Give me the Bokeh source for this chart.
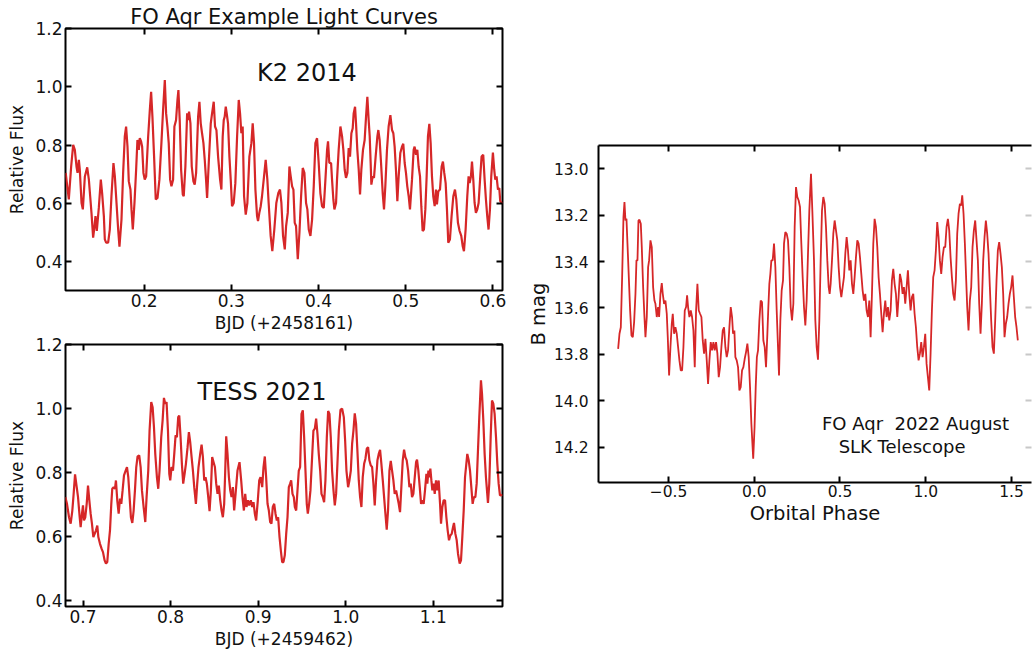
from bokeh.plotting import figure
from bokeh.models import Range1d, LinearAxis, FixedTicker, PrintfTickFormatter, CustomJSTickFormatter, Label
from bokeh.layouts import row, column
from bokeh.embed import file_html
from bokeh.resources import INLINE

FONT = "DejaVu Sans"
RED = "#d62728"

# ---------------- data ----------------
k2_time = [0.110, 0.1136, 0.1163, 0.1186, 0.1205, 0.1224, 0.1236, 0.1251, 0.1262, 0.1282, 0.1297, 0.1320, 0.1347,
           0.1366, 0.1381, 0.1396, 0.1415, 0.1431, 0.1442, 0.1457, 0.1480, 0.1503, 0.1518, 0.1538, 0.1549, 0.1564,
           0.1587, 0.1606, 0.1625, 0.1648, 0.1664, 0.1683, 0.1702, 0.1717, 0.1740, 0.1759, 0.1778, 0.1793, 0.1809,
           0.1824, 0.1843, 0.1855, 0.1870, 0.1889, 0.1908, 0.1923, 0.1939, 0.1950, 0.1965, 0.1977, 0.1992, 0.2007,
           0.2023, 0.2046, 0.2065, 0.2080, 0.2095, 0.2114, 0.2133, 0.2153, 0.2175, 0.2198, 0.2217, 0.2237, 0.2252,
           0.2267, 0.2282, 0.2298, 0.2313, 0.2332, 0.2347, 0.2366, 0.2382, 0.2393, 0.2408, 0.2424, 0.2443, 0.2454,
           0.2473, 0.2493, 0.2504, 0.2515, 0.2531, 0.2546, 0.2565, 0.2580, 0.2596, 0.2619, 0.2634, 0.2649, 0.2664,
           0.2680, 0.2695, 0.2710, 0.2722, 0.2741, 0.2764, 0.2779, 0.2798, 0.2813, 0.2829, 0.2848, 0.2871, 0.2886,
           0.2901, 0.2913, 0.2924, 0.2936, 0.2947, 0.2962, 0.2978, 0.2993, 0.3008, 0.3027, 0.3046, 0.3066, 0.3085,
           0.3100, 0.3115, 0.3130, 0.3146, 0.3165, 0.3184, 0.3207, 0.3230, 0.3245, 0.3260, 0.3276, 0.3295, 0.3306,
           0.3321, 0.3337, 0.3352, 0.3375, 0.3394, 0.3413, 0.3428, 0.3451, 0.3470, 0.3493, 0.3516, 0.3539, 0.3558,
           0.3574, 0.3593,
           0.3613, 0.3628, 0.3647, 0.3666, 0.3681, 0.3697, 0.3712, 0.3727, 0.3742, 0.3762, 0.3781, 0.3800, 0.3819,
           0.3838, 0.3857, 0.3872, 0.3888, 0.3907, 0.3926, 0.3945, 0.3964, 0.3983, 0.4002, 0.4021, 0.4040, 0.4060,
           0.4079, 0.4098, 0.4109, 0.4124, 0.4144, 0.4155, 0.4170, 0.4182, 0.4201, 0.4212, 0.4231, 0.4251, 0.4270,
           0.4285, 0.4300, 0.4315, 0.4331, 0.4346, 0.4361, 0.4377, 0.4392, 0.4403, 0.4419, 0.4430, 0.4445, 0.4461,
           0.4476, 0.4491, 0.4510, 0.4529, 0.4545, 0.4560, 0.4575, 0.4587, 0.4598, 0.4606, 0.4621, 0.4636, 0.4655,
           0.4675, 0.4686, 0.4701, 0.4717, 0.4736, 0.4751, 0.4766, 0.4785, 0.4804, 0.4824, 0.4843, 0.4858, 0.4873,
           0.4888, 0.4904, 0.4919, 0.4938, 0.4957, 0.4972, 0.4988, 0.5003, 0.5018, 0.5034, 0.5049, 0.5072, 0.5091,
           0.5102, 0.5118, 0.5133, 0.5148, 0.5164, 0.5179, 0.5194, 0.5209, 0.5225, 0.5240, 0.5255, 0.5271, 0.5286,
           0.5301, 0.5316, 0.5332, 0.5347, 0.5358, 0.5374, 0.5393, 0.5412, 0.5427, 0.5442, 0.5458, 0.5473, 0.5488,
           0.5507, 0.5526, 0.5546, 0.5565, 0.5580, 0.5599, 0.5618, 0.5637, 0.5653, 0.5668, 0.5687, 0.5706, 0.5721,
           0.5733, 0.5748, 0.5760, 0.5775, 0.5790, 0.5805, 0.5821, 0.5836, 0.5855, 0.5870, 0.5889, 0.5905, 0.5920,
           0.5935, 0.5950, 0.5966, 0.5981, 0.6000, 0.6015, 0.6027, 0.6042, 0.6058, 0.6073, 0.6084, 0.6110]
k2_flux = [0.705, 0.614, 0.727, 0.801, 0.784, 0.727, 0.705, 0.750, 0.716, 0.602, 0.580, 0.693, 0.724,
           0.682, 0.625, 0.568, 0.483, 0.523, 0.557, 0.506, 0.585, 0.682, 0.636, 0.557, 0.477, 0.466,
           0.466, 0.511, 0.625, 0.739, 0.693, 0.602, 0.511, 0.452, 0.545, 0.705, 0.830, 0.864, 0.795,
           0.676, 0.648, 0.580, 0.511, 0.602, 0.716, 0.818, 0.784, 0.824, 0.813, 0.795, 0.705, 0.682,
           0.693, 0.830, 0.920, 0.983, 0.898, 0.761, 0.614, 0.619, 0.682, 0.807, 0.920, 1.023, 0.909,
           0.864, 0.807, 0.682, 0.659, 0.682, 0.864, 0.886, 0.955, 0.989, 0.886, 0.716, 0.631, 0.625,
           0.727, 0.909, 0.886, 0.915, 0.875, 0.727, 0.676, 0.665, 0.705, 0.898, 0.949, 0.875, 0.841,
           0.807, 0.750, 0.682, 0.619, 0.739, 0.875, 0.909, 0.949, 0.864, 0.852, 0.761, 0.682, 0.648,
           0.830, 0.886, 0.898, 0.932, 0.909, 0.875, 0.761, 0.682, 0.591, 0.602, 0.670, 0.830, 0.955,
           0.909, 0.841, 0.864, 0.625, 0.562, 0.602, 0.761, 0.807, 0.875, 0.807, 0.648, 0.557, 0.540,
           0.568, 0.591, 0.625, 0.693, 0.750, 0.682, 0.602, 0.489, 0.437, 0.511, 0.602, 0.636, 0.648,
           0.602, 0.489,
           0.443, 0.523, 0.568, 0.727, 0.693, 0.659, 0.648, 0.534, 0.523, 0.409, 0.500, 0.625, 0.722,
           0.705, 0.602, 0.580, 0.511, 0.489, 0.545, 0.659, 0.807, 0.824, 0.739, 0.636, 0.591, 0.585,
           0.682, 0.784, 0.813, 0.739, 0.739, 0.682, 0.614, 0.580, 0.602, 0.682, 0.784, 0.864, 0.830,
           0.784, 0.716, 0.688, 0.705, 0.790, 0.761, 0.841, 0.858, 0.909, 0.932, 0.875, 0.784, 0.716,
           0.631, 0.716, 0.784, 0.818, 0.898, 0.966, 0.886, 0.830, 0.739, 0.665, 0.693, 0.688, 0.761,
           0.830, 0.852, 0.818, 0.739, 0.636, 0.580, 0.659, 0.784, 0.864, 0.903, 0.852, 0.841, 0.795,
           0.716, 0.608, 0.693, 0.773, 0.795, 0.805, 0.739, 0.705, 0.659, 0.625, 0.580, 0.682, 0.784,
           0.795, 0.767, 0.784, 0.727, 0.693, 0.591, 0.506, 0.511, 0.580, 0.693, 0.830, 0.873, 0.807,
           0.693, 0.625, 0.591, 0.648, 0.597, 0.642, 0.648, 0.727, 0.744, 0.705, 0.670, 0.580, 0.466,
           0.477, 0.557, 0.625, 0.648, 0.614, 0.534, 0.506, 0.489, 0.455, 0.437, 0.511, 0.625, 0.693,
           0.670, 0.693, 0.744, 0.682, 0.602, 0.568, 0.580, 0.602, 0.693, 0.761, 0.767, 0.682, 0.614,
           0.557, 0.511, 0.580, 0.693, 0.775, 0.716, 0.682, 0.693, 0.648, 0.653, 0.608, 0.600]

tess_time = [0.6798, 0.6817, 0.6840, 0.6859, 0.6878, 0.6893, 0.6909, 0.6928, 0.6943, 0.6962, 0.6973, 0.6988,
             0.7000, 0.7011, 0.7026, 0.7042, 0.7057, 0.7072, 0.7087, 0.7102, 0.7118, 0.7133, 0.7148, 0.7163,
             0.7175, 0.7194, 0.7213, 0.7228, 0.7247, 0.7262, 0.7277, 0.7293, 0.7308, 0.7323, 0.7334, 0.7350,
             0.7365, 0.7376, 0.7391, 0.7407, 0.7422, 0.7437, 0.7452, 0.7468, 0.7487, 0.7502, 0.7517, 0.7532,
             0.7547, 0.7563, 0.7578, 0.7593, 0.7608, 0.7623, 0.7642, 0.7658, 0.7673, 0.7692, 0.7711, 0.7726,
             0.7745, 0.7760, 0.7779, 0.7795, 0.7810, 0.7825, 0.7844, 0.7859, 0.7874, 0.7893, 0.7909, 0.7924,
             0.7939, 0.7954, 0.7970, 0.7985, 0.7996, 0.8011, 0.8027, 0.8042, 0.8057, 0.8072, 0.8087, 0.8099,
             0.8114, 0.8129, 0.8144, 0.8160, 0.8175, 0.8194, 0.8209, 0.8224, 0.8240, 0.8255, 0.8270, 0.8289,
             0.8304, 0.8319, 0.8338, 0.8354, 0.8369, 0.8384, 0.8399, 0.8414, 0.8430, 0.8445, 0.8460, 0.8475,
             0.8491, 0.8506, 0.8521, 0.8536, 0.8551, 0.8567, 0.8582, 0.8597, 0.8612, 0.8624, 0.8635, 0.8650,
             0.8666, 0.8681, 0.8696, 0.8711, 0.8726, 0.8742, 0.8764, 0.8787, 0.8806, 0.8821, 0.8837, 0.8852,
             0.8867, 0.8882, 0.8897, 0.8916, 0.8932, 0.8947, 0.8962, 0.8977, 0.8996, 0.9012, 0.9027, 0.9046,
             0.9061, 0.9076, 0.9091, 0.9107, 0.9122, 0.9137, 0.9152, 0.9167, 0.9183, 0.9198, 0.9213, 0.9228,
             0.9244, 0.9259, 0.9274,
             0.9289, 0.9304, 0.9320, 0.9335, 0.9350, 0.9365, 0.9377, 0.9392, 0.9407, 0.9419, 0.9434, 0.9449,
             0.9464, 0.9479, 0.9495, 0.9510, 0.9525, 0.9540, 0.9555, 0.9567, 0.9582, 0.9597, 0.9616, 0.9631,
             0.9647, 0.9662, 0.9677, 0.9692, 0.9708, 0.9723, 0.9738, 0.9753, 0.9768, 0.9784, 0.9799, 0.9814,
             0.9829, 0.9844, 0.9860, 0.9875, 0.9890, 0.9905, 0.9921, 0.9940, 0.9959, 0.9978, 0.9993, 1.0008,
             1.0027, 1.0042, 1.0058, 1.0073, 1.0088, 1.0103, 1.0118, 1.0133, 1.0149, 1.0164, 1.0179, 1.0194,
             1.0210, 1.0225, 1.0240, 1.0255, 1.0270, 1.0286, 1.0301, 1.0316, 1.0331, 1.0346, 1.0362, 1.0377,
             1.0392, 1.0407, 1.0423, 1.0438, 1.0453, 1.0468, 1.0483, 1.0499, 1.0514, 1.0529, 1.0544, 1.0559,
             1.0575, 1.0590, 1.0605, 1.0620, 1.0635, 1.0651, 1.0666, 1.0681, 1.0696, 1.0712, 1.0727, 1.0742,
             1.0757, 1.0772, 1.0788, 1.0803, 1.0814, 1.0829, 1.0845, 1.0860, 1.0875, 1.0890, 1.0905, 1.0921,
             1.0932, 1.0944, 1.0955, 1.0966, 1.0978, 1.0989, 1.1004, 1.1016, 1.1031, 1.1046, 1.1061, 1.1077,
             1.1088, 1.1103, 1.1118, 1.1134, 1.1149, 1.1164, 1.1179, 1.1194, 1.1210, 1.1225, 1.1236, 1.1252,
             1.1267, 1.1282, 1.1301, 1.1316, 1.1331, 1.1347, 1.1362, 1.1377, 1.1388, 1.1404, 1.1419, 1.1434,
             1.1449, 1.1464, 1.1480, 1.1495, 1.1510, 1.1525, 1.1544, 1.1556, 1.1571, 1.1586, 1.1601, 1.1624,
             1.1639, 1.1655, 1.1670, 1.1685, 1.1700, 1.1716, 1.1731, 1.1746, 1.1761, 1.1790]
tess_flux = [0.723, 0.702, 0.660, 0.640, 0.681, 0.733, 0.794, 0.754, 0.723, 0.660, 0.629, 0.671,
             0.697, 0.650, 0.660, 0.702, 0.759, 0.713, 0.671, 0.640, 0.598, 0.608, 0.619, 0.634,
             0.598, 0.577, 0.561, 0.551, 0.525, 0.515, 0.520, 0.577, 0.619, 0.702, 0.749, 0.754,
             0.749, 0.775, 0.713, 0.671, 0.718, 0.702, 0.744, 0.791, 0.806, 0.817, 0.785, 0.723,
             0.660, 0.642, 0.681, 0.744, 0.817, 0.850, 0.853, 0.817, 0.744, 0.692, 0.645, 0.723,
             0.806, 0.931, 1.020, 1.004, 0.942, 0.858, 0.785, 0.749, 0.806, 0.910, 0.963, 1.033,
             1.015, 1.020, 0.931, 0.796, 0.775, 0.817, 0.806, 0.858, 0.916, 0.910, 0.973, 0.978,
             0.910, 0.827, 0.765, 0.796, 0.827, 0.879, 0.926, 0.895, 0.848, 0.806, 0.754, 0.702,
             0.765, 0.817, 0.858, 0.887, 0.848, 0.775, 0.785, 0.765, 0.723, 0.679, 0.744, 0.848,
             0.832, 0.817, 0.765, 0.733, 0.759, 0.713, 0.681, 0.660, 0.702, 0.806, 0.913, 0.858,
             0.785, 0.744, 0.723, 0.754, 0.681, 0.733, 0.806, 0.832, 0.775, 0.723, 0.681, 0.733,
             0.692, 0.713, 0.697, 0.713, 0.692, 0.707, 0.671, 0.650, 0.713, 0.775, 0.785, 0.754,
             0.817, 0.850, 0.785, 0.702, 0.681, 0.645, 0.640, 0.692, 0.702, 0.671, 0.650, 0.660,
             0.598, 0.556, 0.520,
             0.520, 0.541, 0.608, 0.660, 0.754, 0.765, 0.775, 0.733, 0.723, 0.692, 0.681, 0.744,
             0.806, 0.817, 0.983, 0.994, 0.910, 0.806, 0.702, 0.671, 0.702, 0.744, 0.848, 0.931,
             0.937, 0.968, 0.921, 0.858, 0.806, 0.733, 0.723, 0.707, 0.775, 0.910, 0.992, 0.983,
             0.910, 0.806, 0.744, 0.697, 0.733, 0.827, 0.931, 0.996, 0.999, 0.973, 0.900, 0.806,
             0.754, 0.775, 0.806, 0.890, 0.931, 0.985, 0.952, 0.869, 0.775, 0.723, 0.692, 0.785,
             0.827, 0.843, 0.874, 0.879, 0.838, 0.822, 0.817, 0.765, 0.697, 0.775, 0.838, 0.858,
             0.871, 0.827, 0.775, 0.723, 0.671, 0.621, 0.681, 0.806, 0.836, 0.806, 0.775, 0.733,
             0.744, 0.723, 0.702, 0.676, 0.754, 0.838, 0.871, 0.848, 0.838, 0.806, 0.754, 0.765,
             0.723, 0.733, 0.785, 0.832, 0.840, 0.806, 0.754, 0.702, 0.713, 0.702, 0.744, 0.796,
             0.765, 0.806, 0.785, 0.812, 0.775, 0.744, 0.765, 0.733, 0.775, 0.744, 0.775, 0.702,
             0.640, 0.692, 0.713, 0.713, 0.660, 0.619, 0.588, 0.603, 0.608, 0.629, 0.642, 0.608,
             0.588, 0.546, 0.515, 0.525, 0.598, 0.681, 0.785, 0.827, 0.858, 0.838, 0.806, 0.754,
             0.702, 0.723, 0.723, 0.765, 0.869, 0.973, 1.088, 1.046, 0.963, 0.858, 0.785, 0.705,
             0.765, 0.910, 1.025, 1.015, 0.983, 0.910, 0.827, 0.765, 0.728, 0.730]

slk_phase = [-0.7935, -0.7857, -0.7779, -0.7702, -0.7624, -0.7566, -0.7508, -0.7449, -0.7391, -0.7313, -0.7236,
             -0.7158, -0.7080, -0.7003, -0.6925, -0.6867, -0.6808, -0.6750, -0.6692, -0.6614, -0.6556, -0.6478,
             -0.6401, -0.6342, -0.6265, -0.6187, -0.6129, -0.6051, -0.5973, -0.5896, -0.5818, -0.5760, -0.5682,
             -0.5604, -0.5546, -0.5468, -0.5391, -0.5333, -0.5255, -0.5177, -0.5100, -0.5041, -0.4964, -0.4886,
             -0.4808, -0.4750, -0.4672, -0.4595, -0.4517, -0.4439, -0.4362, -0.4284, -0.4206, -0.4129, -0.4051,
             -0.3973, -0.3915, -0.3857, -0.3779, -0.3701, -0.3624, -0.3546, -0.3468, -0.3391, -0.3313, -0.3235,
             -0.3158, -0.3080, -0.3002, -0.2925, -0.2847, -0.2769, -0.2692, -0.2614, -0.2536, -0.2459, -0.2381,
             -0.2303, -0.2226, -0.2148, -0.2070, -0.1993, -0.1915, -0.1837, -0.1760, -0.1682, -0.1604, -0.1527,
             -0.1449, -0.1371, -0.1293, -0.1235, -0.1158, -0.1099, -0.1022, -0.0944, -0.0866, -0.0789, -0.0711,
             -0.0633, -0.0556, -0.0478, -0.0400, -0.0323, -0.0245, -0.0167, -0.0060, 0.0018, 0.0086, 0.0153,
             0.0221, 0.0299, 0.0376, 0.0454, 0.0532, 0.0610, 0.0687, 0.0765, 0.0823, 0.0881, 0.0940, 0.0998,
             0.1076, 0.1153, 0.1231, 0.1309, 0.1386, 0.1445, 0.1522, 0.1600, 0.1678, 0.1736, 0.1814, 0.1891,
             0.1969, 0.2047, 0.2124, 0.2202, 0.2280, 0.2357, 0.2435, 0.2513, 0.2590, 0.2668, 0.2746, 0.2823,
             0.2901, 0.2979, 0.3056, 0.3134, 0.3212, 0.3309, 0.3387,
             0.3484, 0.3562, 0.3640, 0.3717, 0.3795, 0.3873, 0.3950, 0.4028, 0.4106, 0.4183, 0.4261, 0.4339,
             0.4397, 0.4455, 0.4533, 0.4610, 0.4688, 0.4766, 0.4844, 0.4921, 0.4999, 0.5077, 0.5154, 0.5232,
             0.5310, 0.5387, 0.5465, 0.5543, 0.5620, 0.5698, 0.5776, 0.5853, 0.5931, 0.6009, 0.6086, 0.6164,
             0.6242, 0.6319, 0.6397, 0.6475, 0.6552, 0.6630, 0.6708, 0.6785, 0.6863, 0.6941, 0.7018, 0.7096,
             0.7174, 0.7251, 0.7329, 0.7407, 0.7485, 0.7562, 0.7640, 0.7718, 0.7795, 0.7873, 0.7951, 0.8028,
             0.8106, 0.8184, 0.8261, 0.8339, 0.8417, 0.8494, 0.8572, 0.8650, 0.8727, 0.8805, 0.8883, 0.8960,
             0.9038, 0.9116, 0.9193, 0.9271, 0.9349, 0.9426, 0.9504, 0.9582, 0.9659, 0.9737, 0.9815, 0.9892,
             0.9970, 1.0048, 1.0125, 1.0203, 1.0281, 1.0358, 1.0436, 1.0514, 1.0591, 1.0669, 1.0747, 1.0824,
             1.0902, 1.0980, 1.1058, 1.1135, 1.1213, 1.1291, 1.1368, 1.1446, 1.1524, 1.1601, 1.1679, 1.1757,
             1.1834, 1.1912, 1.1990, 1.2067, 1.2126, 1.2203, 1.2281, 1.2359, 1.2417, 1.2494, 1.2572, 1.2650,
             1.2727, 1.2805, 1.2883, 1.2960, 1.3038, 1.3116, 1.3194, 1.3271, 1.3349, 1.3427, 1.3504, 1.3582,
             1.3660, 1.3737, 1.3815, 1.3893, 1.3970, 1.4048, 1.4126, 1.4203, 1.4281, 1.4359, 1.4436, 1.4514,
             1.4592, 1.4669, 1.4747, 1.4825, 1.4902, 1.4980, 1.5058, 1.5135, 1.5213, 1.5291, 1.5368]
slk_bmag = [13.776, 13.711, 13.683, 13.467, 13.208, 13.144, 13.223, 13.216, 13.323, 13.467, 13.611,
            13.718, 13.726, 13.661, 13.539, 13.395, 13.395, 13.223, 13.220, 13.237, 13.338, 13.510,
            13.639, 13.726, 13.639, 13.424, 13.395, 13.309, 13.338, 13.510, 13.568, 13.582, 13.639,
            13.596, 13.639, 13.539, 13.493, 13.539, 13.582, 13.568, 13.625, 13.726, 13.891, 13.769,
            13.668, 13.625, 13.711, 13.683, 13.711, 13.769, 13.826, 13.869, 13.869, 13.769, 13.611,
            13.596, 13.546, 13.596, 13.639, 13.611, 13.639, 13.697, 13.855, 13.611, 13.496, 13.611,
            13.625, 13.639, 13.740, 13.797, 13.733, 13.826, 13.927, 13.826, 13.747, 13.783, 13.747,
            13.783, 13.747, 13.797, 13.898, 13.855, 13.769, 13.697, 13.683, 13.769, 13.812, 13.783,
            13.683, 13.596, 13.639, 13.711, 13.697, 13.812, 13.826, 13.855, 13.955, 13.941, 13.869,
            13.855, 13.819, 13.790, 13.754, 13.812, 13.941, 14.099, 14.250, 14.114, 13.941, 13.812,
            13.783, 13.654, 13.568, 13.575, 13.740, 13.769, 13.855, 13.711, 13.596, 13.496, 13.453, 13.395,
            13.395, 13.323, 13.424, 13.611, 13.769, 13.891, 13.654, 13.524, 13.481, 13.323, 13.273, 13.280,
            13.309, 13.424, 13.596, 13.654, 13.582, 13.251, 13.079, 13.122, 13.137, 13.165, 13.323, 13.467,
            13.596, 13.675, 13.568, 13.366, 13.180, 13.022, 13.180,
            13.395, 13.654, 13.769, 13.823, 13.654, 13.395, 13.180, 13.122, 13.151, 13.251, 13.395, 13.510,
            13.539, 13.496, 13.395, 13.280, 13.223, 13.266, 13.309, 13.424, 13.510, 13.553, 13.510, 13.467,
            13.366, 13.295, 13.352, 13.438, 13.395, 13.496, 13.539, 13.467, 13.381, 13.309, 13.323, 13.381,
            13.453, 13.524, 13.568, 13.539, 13.611, 13.639, 13.568, 13.726, 13.539, 13.323, 13.216, 13.251,
            13.338, 13.467, 13.539, 13.625, 13.704, 13.625, 13.568, 13.639, 13.596, 13.654, 13.611, 13.481,
            13.431, 13.496, 13.539, 13.639, 13.553, 13.453, 13.481, 13.539, 13.510, 13.582, 13.510, 13.438,
            13.539, 13.611, 13.553, 13.539, 13.625, 13.683, 13.769, 13.826, 13.797, 13.747, 13.812, 13.769,
            13.711, 13.841, 13.898, 13.955, 13.797, 13.611, 13.467, 13.438, 13.352, 13.230, 13.295, 13.395,
            13.453, 13.381, 13.338, 13.338, 13.251, 13.216, 13.266, 13.381, 13.467, 13.539, 13.568, 13.481,
            13.280, 13.194, 13.151, 13.158, 13.115, 13.194, 13.323, 13.481, 13.596, 13.697, 13.568, 13.510,
            13.338, 13.266, 13.223, 13.309, 13.395, 13.582, 13.711, 13.582, 13.395, 13.295, 13.223, 13.280,
            13.366, 13.510, 13.654, 13.769, 13.797, 13.654, 13.481, 13.352, 13.316, 13.366, 13.424, 13.539,
            13.726, 13.668, 13.639, 13.582, 13.539, 13.510, 13.460, 13.553, 13.639, 13.683, 13.740]

k2_xticks = [0.2, 0.3, 0.4, 0.5, 0.6]
tess_xticks = [0.7, 0.8, 0.9, 1.0, 1.1]
flux_yticks = [0.4, 0.6, 0.8, 1.0, 1.2]
phase_ticks = [-0.5, 0.0, 0.5, 1.0, 1.5]
bmag_ticks = [13.0, 13.2, 13.4, 13.6, 13.8, 14.0, 14.2]


def style_axis(ax, size, standoff, tick_color="black", line=False, labels=True):
    ax.major_tick_in = 6
    ax.major_tick_out = 0
    ax.major_tick_line_width = 2
    ax.major_tick_line_color = tick_color
    ax.minor_tick_line_color = None
    ax.major_label_text_font = FONT
    ax.major_label_text_color = "#111111"
    ax.major_label_standoff = standoff
    ax.axis_label_text_font = FONT
    ax.axis_label_text_font_style = "normal"
    ax.axis_label_text_color = "#111111"
    if labels:
        ax.major_label_text_font_size = size
    else:
        # tick marks only: the labels of these mirror axes are not drawn
        ax.major_label_text_font_size = "1px"
        ax.major_label_text_color = None
        ax.major_label_standoff = 0
    if line:
        ax.axis_line_color = "black"
        ax.axis_line_width = 2
    else:
        ax.axis_line_color = None


def flux_panel(xr, yr, height, top, bottom, xticks, xlabel, tag, tag_x, tag_y):
    p = figure(width=508, height=height, x_range=Range1d(*xr), y_range=Range1d(*yr),
               output_backend="svg", toolbar_location=None,
               min_border_left=65, min_border_right=6, min_border_top=top, min_border_bottom=bottom,
               background_fill_color="white", border_fill_color="white")
    p.xgrid.visible = False
    p.ygrid.visible = False
    p.outline_line_color = "black"
    p.outline_line_width = 2
    p.outline_line_alpha = 1
    fmt = PrintfTickFormatter(format="%.1f")
    p.xaxis.ticker = FixedTicker(ticks=xticks)
    p.yaxis.ticker = FixedTicker(ticks=flux_yticks)
    p.xaxis.formatter = fmt
    p.yaxis.formatter = fmt
    p.xaxis.axis_label = xlabel
    p.yaxis.axis_label = "Relative Flux"
    style_axis(p.xaxis[0], "17px", 3)
    style_axis(p.yaxis[0], "17px", 3)
    p.xaxis.axis_label_text_font_size = "17px"
    p.yaxis.axis_label_text_font_size = "17px"
    p.xaxis.axis_label_standoff = 3
    p.yaxis.axis_label_standoff = 5
    top_ax = LinearAxis(ticker=FixedTicker(ticks=xticks))
    style_axis(top_ax, "1px", 0, labels=False)
    right_ax = LinearAxis(ticker=FixedTicker(ticks=flux_yticks))
    style_axis(right_ax, "1px", 0, labels=False)
    p.add_layout(top_ax, "above")
    p.add_layout(right_ax, "right")
    p.add_layout(Label(x=tag_x, y=tag_y, text=tag, text_font=FONT, text_font_size="24px",
                       text_baseline="alphabetic", text_color="#111111"))
    return p


# ---------------- top-left: K2 2014 ----------------
p1 = flux_panel((0.1098, 0.611), (0.302, 1.2), 335, 28, 44, k2_xticks, "BJD (+2458161)",
                "K2 2014", 0.3295, 1.046)
p1.line(k2_time, k2_flux, line_color=RED, line_width=2.2)
p1.title.text = "FO Aqr Example Light Curves"
p1.title.align = "center"
p1.title.text_font = FONT
p1.title.text_font_size = "21px"
p1.title.text_font_style = "normal"
p1.title.text_color = "#111111"
p1.title.standoff = 0

# ---------------- bottom-left: TESS 2021 ----------------
p2 = flux_panel((0.680, 1.179), (0.381, 1.2), 316, 9, 45, tess_xticks, "BJD (+2459462)",
                "TESS 2021", 0.8307, 1.05)
p2.line(tess_time, tess_flux, line_color=RED, line_width=2.2)

# ---------------- right: SLK B-band, 2022 August ----------------
p3 = figure(width=524, height=532, x_range=Range1d(-0.908, 1.6165), y_range=Range1d(14.352, 12.900),
            output_backend="svg", toolbar_location=None,
            min_border_left=90, min_border_right=1, min_border_top=145, min_border_bottom=50,
            background_fill_color="white", border_fill_color="white")
p3.xgrid.visible = False
p3.ygrid.visible = False
p3.outline_line_color = None
p3.xaxis.ticker = FixedTicker(ticks=phase_ticks)
p3.yaxis.ticker = FixedTicker(ticks=bmag_ticks)
p3.xaxis.formatter = CustomJSTickFormatter(code="return (tick < 0 ? '\u2212' : '') + Math.abs(tick).toFixed(1);")
p3.yaxis.formatter = PrintfTickFormatter(format="%.1f")
p3.xaxis.axis_label = "Orbital Phase"
p3.yaxis.axis_label = "B mag"
style_axis(p3.xaxis[0], "15.5px", 2, line=True)
style_axis(p3.yaxis[0], "15.5px", 10, line=True)
p3.xaxis.axis_label_text_font_size = "19.5px"
p3.yaxis.axis_label_text_font_size = "19.5px"
p3.xaxis.axis_label_standoff = 2
p3.yaxis.axis_label_standoff = 1
top3 = LinearAxis(ticker=FixedTicker(ticks=phase_ticks))
style_axis(top3, "1px", 0, line=True, labels=False)
right3 = LinearAxis(ticker=FixedTicker(ticks=bmag_ticks))
style_axis(right3, "1px", 0, tick_color="#c8c8c8", labels=False)
p3.add_layout(top3, "above")
p3.add_layout(right3, "right")
p3.line(slk_phase, slk_bmag, line_color=RED, line_width=1.8)
p3.add_layout(Label(x=0.395, y=14.099, text="FO Aqr\u00a0 2022 August", text_font=FONT, text_font_size="18px",
                    text_baseline="alphabetic", text_color="#111111"))
p3.add_layout(Label(x=0.492, y=14.197, text="SLK Telescope", text_font=FONT, text_font_size="18px",
                    text_baseline="alphabetic", text_color="#111111"))

layout = row(column(p1, p2), p3)
open("out.html", "w").write(file_html(layout, INLINE))
